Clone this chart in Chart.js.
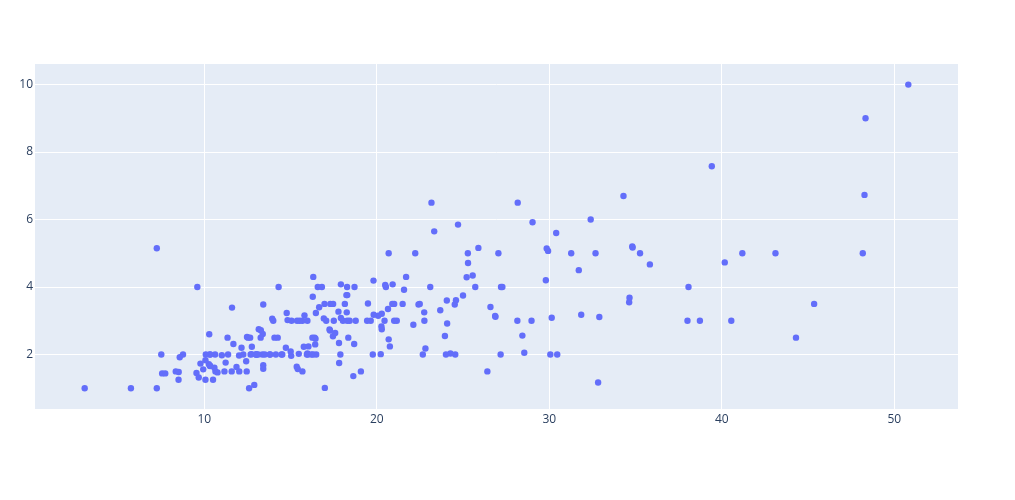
<!DOCTYPE html>
<html>
<head>
<meta charset="utf-8">
<script src="https://cdn.jsdelivr.net/npm/chart.js@4.4.1/dist/chart.umd.min.js"></script>
<style>
html,body{margin:0;padding:0;background:#fff;}
#wrap{width:1015px;height:500px;position:relative;}
</style>
</head>
<body>
<div id="wrap"><canvas id="c" width="1015" height="500"></canvas></div>
<script>
// total bill (x) and tip (y)
const totalBill = [16.99,10.34,21.01,23.68,24.59,25.29,8.77,26.88,15.04,14.78,10.27,35.26,15.42,18.43,14.83,21.58,10.33,16.29,16.97,20.65,17.92,20.29,15.77,39.42,19.82,17.81,13.37,12.69,21.7,19.65,9.55,18.35,15.06,20.69,17.78,24.06,16.31,16.93,18.69,31.27,16.04,17.46,13.94,9.68,30.4,18.29,22.23,32.4,28.55,18.04,12.54,10.29,34.81,9.94,25.56,19.49,38.01,26.41,11.24,48.27,20.29,13.81,11.02,18.29,17.59,20.08,16.45,3.07,20.23,15.01,12.02,17.07,26.86,25.28,14.73,10.51,17.92,27.2,22.76,17.29,19.44,16.66,10.07,32.68,15.98,34.83,13.03,18.28,24.71,21.16,28.97,22.49,5.75,16.32,22.75,40.17,27.28,12.03,21.01,12.46,11.35,15.38,44.3,22.42,20.92,15.36,20.49,25.21,18.24,14.31,14.0,7.25,38.07,23.95,25.71,17.31,29.93,10.65,12.43,24.08,11.69,13.42,14.26,15.95,12.48,29.8,8.52,14.52,11.38,22.82,19.08,20.27,11.17,12.26,18.26,8.51,10.33,14.15,16.0,13.16,17.47,34.3,41.19,27.05,16.43,8.35,18.64,11.87,9.78,7.51,14.07,13.13,17.26,24.55,19.77,29.85,48.17,25.0,13.39,16.49,21.5,12.66,16.21,13.81,17.51,24.52,20.76,31.71,10.59,10.63,50.81,15.81,7.25,31.85,16.82,32.9,17.89,14.48,9.6,34.63,34.65,23.33,45.35,23.17,40.55,20.69,20.9,30.46,18.15,23.1,15.69,19.81,28.44,15.48,16.58,7.56,10.34,43.11,13.0,13.51,18.71,12.74,13.0,16.4,20.53,16.47,26.59,38.73,24.27,12.76,30.06,25.89,48.33,13.27,28.17,12.9,28.15,11.59,7.74,30.14,12.16,13.42,8.58,15.98,13.42,16.27,10.09,20.45,13.28,22.12,24.01,15.69,11.61,10.77,15.53,10.07,12.6,32.83,35.83,29.03,27.18,22.67,17.82,18.78];
const tips = [1.01,1.66,3.5,3.31,3.61,4.71,2.0,3.12,1.96,3.23,1.71,5.0,1.57,3.0,3.02,3.92,1.67,3.71,3.5,3.35,4.08,2.75,2.23,7.58,3.18,2.34,2.0,2.0,4.3,3.0,1.45,2.5,3.0,2.45,3.27,3.6,2.0,3.07,2.31,5.0,2.24,2.54,3.06,1.32,5.6,3.0,5.0,6.0,2.05,3.0,2.5,2.6,5.2,1.56,4.34,3.51,3.0,1.5,1.76,6.73,3.21,2.0,1.98,3.76,2.64,3.15,2.47,1.0,2.01,2.09,1.97,3.0,3.14,5.0,2.2,1.25,3.08,4.0,3.0,2.71,3.0,3.4,1.83,5.0,2.03,5.17,2.0,4.0,5.85,3.0,3.0,3.5,1.0,4.3,3.25,4.73,4.0,1.5,3.0,1.5,2.5,3.0,2.5,3.48,4.08,1.64,4.06,4.29,3.76,4.0,3.0,1.0,4.0,2.55,4.0,3.5,5.07,1.5,1.8,2.92,2.31,1.68,2.5,2.0,2.52,4.2,1.48,2.0,2.0,2.18,1.5,2.83,1.5,2.0,3.25,1.25,2.0,2.0,2.0,2.75,3.5,6.7,5.0,5.0,2.3,1.5,1.36,1.63,1.73,2.0,2.5,2.0,2.74,2.0,2.0,5.14,5.0,3.75,2.61,2.0,3.5,2.5,2.0,2.0,3.0,3.48,2.24,4.5,1.61,2.0,10.0,3.16,5.15,3.18,4.0,3.11,2.0,2.0,4.0,3.55,3.68,5.65,3.5,6.5,3.0,5.0,3.5,2.0,3.5,4.0,1.5,4.19,2.56,2.02,4.0,1.44,2.0,5.0,2.0,2.0,4.0,2.01,2.0,2.5,4.0,3.23,3.41,3.0,2.03,2.23,2.0,5.16,9.0,2.5,6.5,1.1,3.0,1.5,1.44,3.09,2.2,3.48,1.92,3.0,1.58,2.5,2.0,3.0,2.72,2.88,2.0,3.0,3.39,1.47,3.0,1.25,1.0,1.17,4.67,5.92,2.0,2.0,1.75,3.0];
const xTicks = [10,20,30,40,50];
const yTicks = [2,4,6,8,10];
const xRange = [0.19, 53.69];
const yRange = [0.385, 10.61];

const points = totalBill.map((x,i)=>({x:x, y:tips[i]}));

const bgPlugin = {
  id:'plotbg',
  beforeDraw(chart){
    const {ctx, chartArea:a} = chart;
    ctx.save();
    ctx.fillStyle = '#E5ECF6';
    ctx.fillRect(a.left, a.top, a.right-a.left, a.bottom-a.top);
    ctx.restore();
  }
};

const tickFont = {family:'"Open Sans", verdana, arial, sans-serif', size:12};

new Chart(document.getElementById('c'), {
  type:'scatter',
  data:{datasets:[{
    data:points,
    backgroundColor:'#636efa',
    borderWidth:0,
    pointRadius:3.2,
    pointHoverRadius:3.2
  }]},
  options:{
    responsive:false,
    animation:false,
    events:[],
    layout:{padding:{top:64,right:57,left:0,bottom:0}},
    plugins:{legend:{display:false},tooltip:{enabled:false}},
    scales:{
      x:{
        type:'linear',
        min:xRange[0], max:xRange[1],
        afterBuildTicks(s){ s.ticks = xTicks.map(v=>({value:v})); },
        afterFit(s){ s.height = 91; },
        grid:{color:'#ffffff', lineWidth:1, drawTicks:false},
        border:{display:false},
        ticks:{color:'#2a3f5f', font:tickFont, padding:3, maxRotation:0, autoSkip:false}
      },
      y:{
        type:'linear',
        min:yRange[0], max:yRange[1],
        afterBuildTicks(s){ s.ticks = yTicks.map(v=>({value:v})); },
        afterFit(s){ s.width = 35; },
        grid:{color:'#ffffff', lineWidth:1, drawTicks:false},
        border:{display:false},
        ticks:{color:'#2a3f5f', font:tickFont, padding:2, autoSkip:false}
      }
    }
  },
  plugins:[bgPlugin]
});
</script>
</body>
</html>
